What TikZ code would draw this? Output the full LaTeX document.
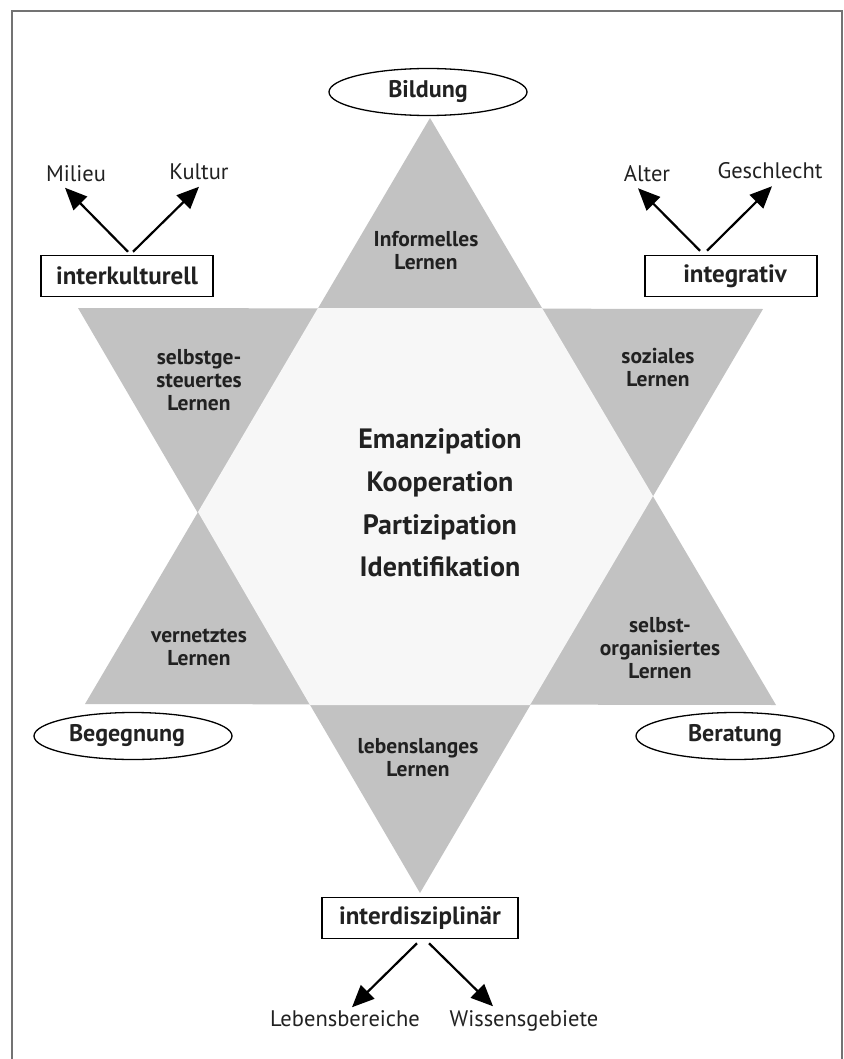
\documentclass[tikz,border=0pt]{standalone}
\usepackage{fontspec}
\setmainfont{PT Sans}
\usetikzlibrary{arrows.meta,positioning,shapes.geometric}
\definecolor{stargray}{gray}{0.76}
\definecolor{hexgray}{gray}{0.97}
\definecolor{framegray}{gray}{0.45}
\definecolor{inkgray}{gray}{0.13}
\tikzset{
  ring/.style={ellipse,draw,line width=1.3pt,minimum width=198pt,minimum height=47pt,inner sep=0pt,text=inkgray,font=\fontsize{24}{26}\selectfont\bfseries},
  tag/.style={draw,line width=1.5pt,minimum height=41pt,inner sep=0pt,text=inkgray,font=\fontsize{25}{27}\selectfont\bfseries},
  lern/.style={align=center,text=inkgray,font=\fontsize{21.5}{23}\selectfont\bfseries},
  leaf/.style={inner sep=1pt,text=inkgray,font=\fontsize{22.5}{24}\selectfont},
  pfeil/.style={line width=2.2pt,-{Triangle[length=22pt,width=19pt]}}
}
\begin{document}
\begin{tikzpicture}[x=1pt,y=-1pt]
  \useasboundingbox (0,0) rectangle (843,1059);
  \draw[framegray,line width=1.3pt] (12,1059) |- (842,11) -- (842,1059);
  \fill[stargray] (430,118) -- (85,704) -- (776,705) -- cycle;
  \fill[stargray] (78,308) -- (763,309) -- (420,893) -- cycle;
  \fill[hexgray] (318,308) -- (542,308) -- (653,496) -- (530,705) -- (310,705) -- (198,512) -- cycle;
  \node[lern] (infl) at (426,251) {Informelles\\Lernen};
  \node[lern] (sgl) at (199,380) {selbstge-\\steuertes\\Lernen};
  \node[lern] (soz) at (658,368) {soziales\\Lernen};
  \node[lern] (vern) at (199,647) {vernetztes\\Lernen};
  \node[lern] (sol) at (660,648) {selbst-\\organisiertes\\Lernen};
  \node[lern] (lebl) at (418,758) {lebenslanges\\Lernen};
  \node[align=center,text=inkgray,font=\fontsize{28}{42.7}\selectfont\bfseries] (werte) at (440,503)
    {Emanzipation\\Kooperation\\Partizipation\\Identifikation};
  \node[ring] (bild) at (428,92) {Bildung};
  \node[ring] (beg) at (133,736) {Begegnung\hspace*{12pt}};
  \node[ring] (ber) at (735,736) {Beratung};
  \node[tag,minimum width=172pt] (ikult) at (127,276) {interkulturell};
  \node[tag,minimum width=172pt] (integ) at (731,276) {\hspace*{8pt}integrativ};
  \node[tag,minimum width=196pt] (idis) at (420,918) {interdisziplinär};
  \node[leaf,above=72pt of ikult.north,xshift=-51pt] (milieu) {Milieu};
  \node[leaf,above=74pt of ikult.north,xshift=72pt] (kultur) {Kultur};
  \node[leaf,above=72pt of integ.north,xshift=-84pt] (alter) {Alter};
  \node[leaf,above=74.5pt of integ.north,xshift=39pt] (geschl) {Geschlecht};
  \node[leaf,below=70pt of idis.south,xshift=-75pt] (lebber) {Lebensbereiche};
  \node[leaf,below=70pt of idis.south,xshift=104pt] (wisgeb) {Wissensgebiete};
  \draw[pfeil] ([shift={(1,-3)}]ikult.north) -- ([shift={(-11,5)}]milieu.south);
  \draw[pfeil] ([shift={(6,-3)}]ikult.north) -- ([shift={(0,6)}]kultur.south);
  \draw[pfeil] ([shift={(-31,-4)}]integ.north) -- ([shift={(-9,5.5)}]alter.south);
  \draw[pfeil] ([shift={(-24,-4)}]integ.north) -- ([shift={(2,6)}]geschl.south);
  \draw[pfeil] ([shift={(-3,4)}]idis.south) -- ([shift={(7,-2)}]lebber.north);
  \draw[pfeil] ([shift={(9,4)}]idis.south) -- ([shift={(-31,-3)}]wisgeb.north);
\end{tikzpicture}
\end{document}
